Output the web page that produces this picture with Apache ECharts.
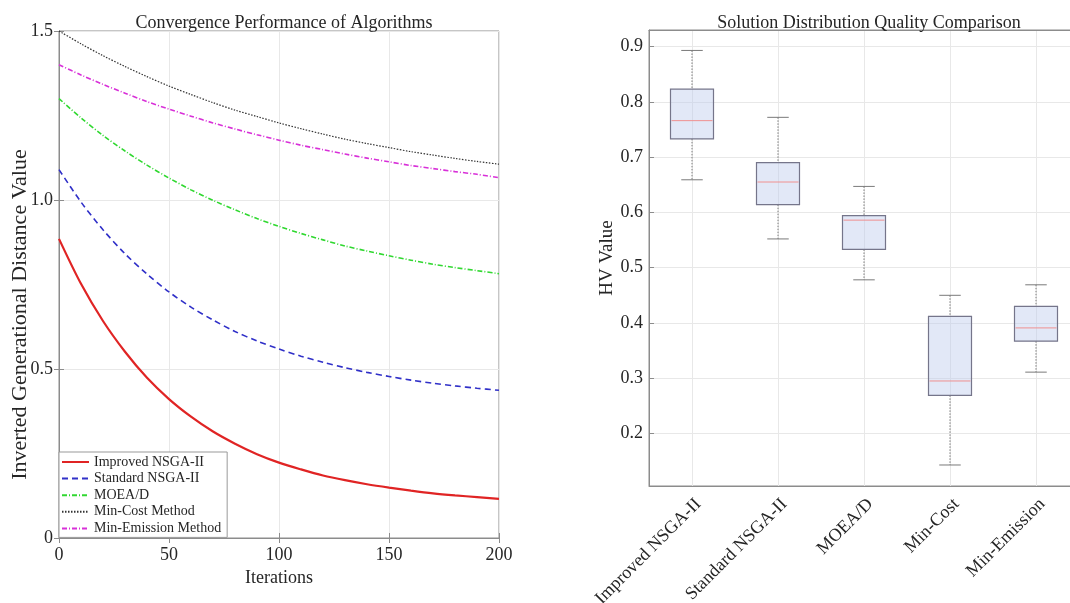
<!DOCTYPE html>
<html><head><meta charset="utf-8">
<script src="https://cdn.jsdelivr.net/npm/echarts@6/dist/echarts.min.js"></script>
<style>html,body{margin:0;padding:0;background:#fff}#c{width:1070px;height:603px}</style>
</head><body><div id="c"></div>
<script>
// ---- Left chart: convergence curves (IGD vs iterations) ----
const iterations = [0,10,20,30,40,50,60,70,80,90,100,110,120,130,140,150,160,170,180,190,200];
const improvedNSGA = [0.885,0.752,0.642,0.551,0.474,0.411,0.359,0.315,0.279,0.248,0.223,0.203,0.185,0.171,0.159,0.149,0.140,0.132,0.126,0.121,0.116];
const standardNSGA = [1.090,0.994,0.912,0.841,0.781,0.728,0.683,0.645,0.611,0.583,0.559,0.538,0.520,0.504,0.490,0.478,0.467,0.458,0.450,0.443,0.437];
const moead = [1.300,1.243,1.191,1.145,1.103,1.065,1.030,0.999,0.971,0.945,0.922,0.901,0.882,0.864,0.849,0.835,0.822,0.810,0.800,0.791,0.782];
const minCost = [1.500,1.462,1.427,1.395,1.365,1.337,1.312,1.288,1.266,1.247,1.228,1.211,1.195,1.180,1.167,1.155,1.143,1.133,1.123,1.114,1.106];
const minEmission = [1.400,1.370,1.342,1.316,1.291,1.269,1.248,1.228,1.210,1.193,1.177,1.162,1.149,1.136,1.124,1.113,1.102,1.093,1.084,1.076,1.066];
const seriesNames = ['Improved NSGA-II','Standard NSGA-II','MOEA/D','Min-Cost Method','Min-Emission Method'];

// ---- Right chart: HV box plots ----
const boxCategories = ['Improved NSGA-II','Standard NSGA-II','MOEA/D','Min-Cost','Min-Emission'];
const whiskerLow  = [0.659,0.552,0.478,0.143,0.311];
const quart1      = [0.733,0.614,0.533,0.269,0.367];
const medians     = [0.766,0.655,0.586,0.295,0.391];
const quart3      = [0.823,0.690,0.594,0.412,0.430];
const whiskerHigh = [0.893,0.772,0.647,0.450,0.469];

const FONT = "'Liberation Serif','Times New Roman',serif";
const AXIS = '#8c8c8c';
const TXT = '#262626';
const GRIDC = '#e8e8e8';

function pairs(vals){ return iterations.map((t,i)=>[t, vals[i]]); }

function renderBox(params, api){
  const idx = api.value(0);
  const lo = api.coord([idx, api.value(1)]);
  const b1 = api.coord([idx, api.value(2)]);
  const md = api.coord([idx, api.value(3)]);
  const b3 = api.coord([idx, api.value(4)]);
  const hi = api.coord([idx, api.value(5)]);
  const band = api.size([1,0])[0];
  const bw = band*0.5, cw = bw*0.5, cx = lo[0];
  const wStyle = {stroke:'#7a7a7a', lineWidth:1, lineDash:[1.5,1.5]};
  const cStyle = {stroke:'#7a7a7a', lineWidth:1};
  return {type:'group', children:[
    {type:'line', shape:{x1:cx,y1:hi[1],x2:cx,y2:b3[1]}, style:wStyle},
    {type:'line', shape:{x1:cx,y1:b1[1],x2:cx,y2:lo[1]}, style:wStyle},
    {type:'line', shape:{x1:cx-cw/2,y1:hi[1],x2:cx+cw/2,y2:hi[1]}, style:cStyle},
    {type:'line', shape:{x1:cx-cw/2,y1:lo[1],x2:cx+cw/2,y2:lo[1]}, style:cStyle},
    {type:'rect', shape:{x:cx-bw/2, y:b3[1], width:bw, height:b1[1]-b3[1]}, style:{fill:'rgba(190,205,238,0.45)', stroke:'#75758a', lineWidth:1.2}},
    {type:'line', shape:{x1:cx-bw/2+1,y1:md[1],x2:cx+bw/2-1,y2:md[1]}, style:{stroke:'#f09090', lineWidth:1}}
  ]};
}

const lineStyles = [
  {color:'#e02424', width:2.2, type:'solid'},
  {color:'#3030c8', width:1.6, type:[6,4]},
  {color:'#30d830', width:1.6, type:[5,2,1,2]},
  {color:'#333333', width:1.2, type:[1.5,1.5]},
  {color:'#d830d8', width:1.6, type:[5,2,1,2]}
];
const lineData = [improvedNSGA, standardNSGA, moead, minCost, minEmission];

const chart = echarts.init(document.getElementById('c'), null, {renderer:'canvas'});
chart.setOption({
  animation:false,
  textStyle:{fontFamily:FONT, color:TXT},
  title:[
    {text:'Convergence Performance of Algorithms', left:279, top:9, textAlign:'center', textStyle:{fontFamily:FONT, fontSize:18, fontWeight:'normal', color:TXT}},
    {text:'Solution Distribution Quality Comparison', left:864, top:9, textAlign:'center', textStyle:{fontFamily:FONT, fontSize:18, fontWeight:'normal', color:TXT}}
  ],
  legend:{
    left:59, top:452, orient:'vertical', itemWidth:27, itemHeight:10, itemGap:2.6,
    padding:[3,6,2,2], borderColor:'#999', borderWidth:1, backgroundColor:'#fff',
    itemStyle:{opacity:0},
    textStyle:{fontFamily:FONT, fontSize:14, color:TXT}, data:seriesNames
  },
  grid:[
    {left:59, top:31, width:440, height:507, show:true, borderColor:AXIS, borderWidth:1, backgroundColor:'transparent', outerBoundsMode:'none', containLabel:false},
    {left:649, top:30, width:430, height:456, show:true, borderColor:AXIS, borderWidth:1, backgroundColor:'transparent', outerBoundsMode:'none', containLabel:false}
  ],
  xAxis:[
    {type:'value', gridIndex:0, min:0, max:200, interval:50, name:'Iterations', nameLocation:'middle', nameGap:29,
     nameTextStyle:{fontFamily:FONT, fontSize:18, color:TXT},
     axisLine:{lineStyle:{color:AXIS}}, axisTick:{inside:true, length:5, lineStyle:{color:AXIS}},
     axisLabel:{fontFamily:FONT, fontSize:18, color:TXT, margin:8},
     splitLine:{show:true, lineStyle:{color:GRIDC}}},
    {type:'value', gridIndex:0, position:'top', min:0, max:200, interval:50,
     axisLine:{show:true, lineStyle:{color:AXIS}}, axisTick:{inside:true, length:5, lineStyle:{color:AXIS}},
     axisLabel:{show:false}, splitLine:{show:false}},
    {type:'category', gridIndex:1, data:boxCategories, boundaryGap:true,
     axisLine:{lineStyle:{color:AXIS}}, axisTick:{alignWithLabel:true, inside:true, length:5, lineStyle:{color:AXIS}},
     axisLabel:{fontFamily:FONT, fontSize:18, color:TXT, rotate:45, margin:9, interval:0, verticalAlign:'top'},
     splitLine:{show:true, alignWithLabel:true, interval:0, lineStyle:{color:GRIDC}}},
    {type:'category', gridIndex:1, position:'top', data:boxCategories, boundaryGap:true,
     axisLine:{show:true, lineStyle:{color:AXIS}}, axisTick:{alignWithLabel:true, inside:true, length:5, lineStyle:{color:AXIS}},
     axisLabel:{show:false}, splitLine:{show:false}}
  ],
  yAxis:[
    {type:'value', gridIndex:0, min:0, max:1.5, interval:0.5, name:'Inverted Generational Distance Value', nameLocation:'middle', nameGap:28,
     nameMoveOverlap:false,
     nameTextStyle:{fontFamily:FONT, fontSize:22, color:TXT, padding:[0,60,0,0]},
     axisLine:{show:true, lineStyle:{color:AXIS}}, axisTick:{show:true, inside:true, length:5, lineStyle:{color:AXIS}},
     axisLabel:{fontFamily:FONT, fontSize:18, color:TXT, margin:6, formatter:v=>v===0?'0':v.toFixed(1)},
     splitLine:{show:true, lineStyle:{color:GRIDC}}},
    {type:'value', gridIndex:0, position:'right', min:0, max:1.5, interval:0.5,
     axisLine:{show:true, lineStyle:{color:AXIS}}, axisTick:{show:true, inside:true, length:5, lineStyle:{color:AXIS}},
     axisLabel:{show:false}, splitLine:{show:false}},
    {type:'value', gridIndex:1, min:0.105, max:0.93, splitNumber:8, name:'HV Value', nameLocation:'middle', nameGap:30,
     nameTextStyle:{fontFamily:FONT, fontSize:19, color:TXT},
     axisLine:{show:true, lineStyle:{color:AXIS}}, axisTick:{show:true, inside:true, length:5, lineStyle:{color:AXIS}},
     axisLabel:{fontFamily:FONT, fontSize:18, color:TXT, margin:6, showMinLabel:false, showMaxLabel:false, formatter:v=>v.toFixed(1)},
     splitLine:{show:true, lineStyle:{color:GRIDC}}}
  ],
  series: lineData.map((arr,i)=>({
    name:seriesNames[i], type:'line', xAxisIndex:0, yAxisIndex:0, data:pairs(arr),
    smooth:0.3, symbol:'none', showSymbol:false, lineStyle:lineStyles[i], itemStyle:{color:lineStyles[i].color},
    z:10-i
  })).concat([{
    type:'custom', name:'HV', xAxisIndex:2, yAxisIndex:2, renderItem:renderBox,
    encode:{x:0, y:[1,2,3,4,5]},
    data: boxCategories.map((c,i)=>[i, whiskerLow[i], quart1[i], medians[i], quart3[i], whiskerHigh[i]]),
    z:5
  }])
});
</script>
</body></html>
